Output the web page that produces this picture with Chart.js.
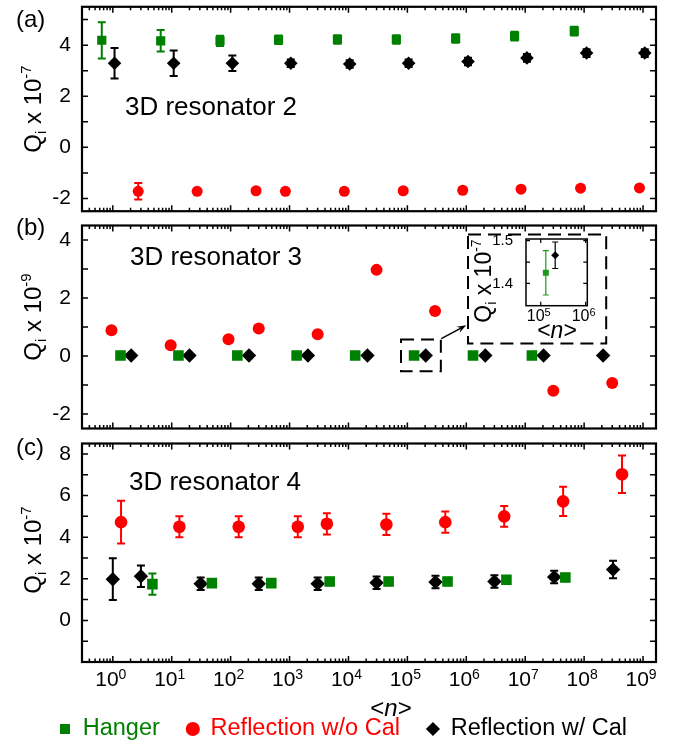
<!DOCTYPE html>
<html>
<head>
<meta charset="utf-8">
<script src="https://cdn.jsdelivr.net/npm/chart.js@4.4.0/dist/chart.umd.min.js"></script>
<style>
  body { margin: 0; background: #fff; overflow: hidden; }
  #wrap { position: relative; width: 686px; height: 748px; }
  #wrap canvas { position: absolute; }
</style>
</head>
<body>
<div id="wrap">
  <canvas id="panelA" style="left:0;top:0" width="686" height="218"></canvas>
  <canvas id="panelB" style="left:0;top:218px" width="686" height="218"></canvas>
  <canvas id="panelC" style="left:0;top:436px" width="686" height="312"></canvas>
  <canvas id="inset" style="left:470px;top:226px" width="150" height="120"></canvas>
</div>
<script>
// (a) 3D resonator 2, Qi x 10^-7
const aHangerN = [0.65, 6.5, 66, 650, 6500, 65000, 660000, 6.6e6, 6.8e7];
const aHangerQ = [4.19, 4.17, 4.17, 4.21, 4.22, 4.22, 4.26, 4.35, 4.55];
const aHangerErr = [0.71, 0.42, 0.2, 0.17, 0.17, 0.17, 0.17, 0.17, 0.17];
const aReflN = [2.7, 27, 270, 850, 8500, 85000, 870000, 8.5e6, 8.7e7, 8.7e8];
const aReflQ = [-1.72, -1.72, -1.70, -1.72, -1.72, -1.70, -1.68, -1.64, -1.60, -1.59];
const aReflErr = [0.32, 0.1, 0.1, 0.1, 0.1, 0.1, 0.1, 0.1, 0.1, 0.1];
const aCalN = [1.07, 10.8, 107, 1050, 10500, 105000, 1.07e6, 1.07e7, 1.1e8, 1.07e9];
const aCalQ = [3.29, 3.29, 3.29, 3.29, 3.26, 3.29, 3.36, 3.5, 3.69, 3.69];
const aCalErr = [0.6, 0.5, 0.3, 0.15, 0.15, 0.15, 0.15, 0.15, 0.15, 0.15];

// (b) 3D resonator 3, Qi x 10^-9
const bHangerN = [1.35, 13, 130, 1320, 13000, 130000, 1.3e6, 1.3e7];
const bHangerQ = [0.015, 0.015, 0.015, 0.015, 0.015, 0.015, 0.015, 0.015];
const bReflN = [0.95, 9.6, 92, 300, 3000, 30000, 295000, 3e7, 3e8];
const bReflQ = [0.89, 0.37, 0.58, 0.95, 0.75, 2.97, 1.55, -1.2, -0.93];
const bCalN = [2.05, 20, 205, 2050, 21000, 205000, 2.1e6, 2.05e7, 2.1e8];
const bCalQ = [0.015, 0.015, 0.015, 0.015, 0.015, 0.015, 0.015, 0.015, 0.015];

// inset of (b), Qi x 10^-7
const insetHangerN = [1.3e5];
const insetHangerQ = [1.425];
const insetHangerErr = [0.052];
const insetCalN = [2.1e5];
const insetCalQ = [1.466];
const insetCalErr = [0.031];

// (c) 3D resonator 4, Qi x 10^-7
const cHangerN = [4.7, 48, 490, 4800, 48000, 480000, 4.8e6, 4.8e7];
const cHangerQ = [1.74, 1.79, 1.79, 1.87, 1.87, 1.87, 1.95, 2.06];
const cHangerErr = [0.51, 0.18, 0.18, 0.18, 0.18, 0.18, 0.18, 0.18];
const cReflN = [1.38, 13.5, 137, 1380, 4300, 44000, 440000, 4.4e6, 4.4e7, 4.4e8];
const cReflQ = [4.72, 4.5, 4.5, 4.5, 4.64, 4.61, 4.72, 5.0, 5.72, 7.02];
const cReflErr = [1.03, 0.51, 0.51, 0.51, 0.51, 0.51, 0.51, 0.5, 0.7, 0.9];
const cCalN = [1.0, 3.0, 31, 300, 3000, 30000, 3e5, 3e6, 3.1e7, 3.1e8];
const cCalQ = [1.98, 2.12, 1.76, 1.76, 1.76, 1.81, 1.84, 1.87, 2.08, 2.44];
const cCalErr = [1.0, 0.52, 0.3, 0.3, 0.3, 0.3, 0.3, 0.3, 0.3, 0.42];

// axis ticks
const xExponents = [0, 1, 2, 3, 4, 5, 6, 7, 8, 9];
const insetExponents = [5, 6];
const abMajorTicks = [-2, 0, 2, 4];
const cMajorTicks = [0, 2, 4, 6, 8];
const insetMajorTicks = [1.4, 1.5];

// dashed zoom boxes in (b), in data units
const zoomBoxN = [7.8e4, 3.7e5], zoomBoxQ = [-0.53, 0.57];
const insetBoxN = [1.07e6, 2.37e8], insetBoxQ = [0.43, 4.19];
const arrowN = [3.76e5, 1.0e6], arrowQ = [0.6, 1.06];

const FONT = "'Liberation Sans', Arial, sans-serif";
const GREEN = '#008000', RED = '#ff0000', BLACK = '#000000';

const toPts = (xs, ys) => xs.map((v, i) => ({ x: v, y: ys[i] }));

function fontOf(p) {
  return (p.i ? 'italic ' : '') + p.s + 'px ' + FONT;
}

// draws a run of text pieces (for sub/superscripts)
function rich(ctx, parts, x, y, align) {
  let w = 0;
  parts.forEach(p => { ctx.font = fontOf(p); p.w = ctx.measureText(p.t).width; w += p.w; });
  let cx = align === 'center' ? x - w / 2 : x;
  ctx.textAlign = 'left';
  ctx.textBaseline = 'alphabetic';
  parts.forEach(p => { ctx.font = fontOf(p); ctx.fillText(p.t, cx, y + (p.dy || 0)); cx += p.w; });
}

const errorBars = {
  id: 'errorBars',
  beforeDatasetsDraw(chart) {
    const ctx = chart.ctx, y = chart.scales.y;
    chart.data.datasets.forEach((ds, i) => {
      if (!ds.errors) return;
      const meta = chart.getDatasetMeta(i);
      ctx.save();
      ctx.strokeStyle = ds.borderColor;
      ctx.lineWidth = ds.errLine || 2;
      const c = ds.cap || 4;
      ctx.beginPath();
      meta.data.forEach((pt, j) => {
        const top = y.getPixelForValue(ds.data[j].y + ds.errors[j]);
        const bot = y.getPixelForValue(ds.data[j].y - ds.errors[j]);
        ctx.moveTo(pt.x, top); ctx.lineTo(pt.x, bot);
        ctx.moveTo(pt.x - c, top); ctx.lineTo(pt.x + c, top);
        ctx.moveTo(pt.x - c, bot); ctx.lineTo(pt.x + c, bot);
      });
      ctx.stroke();
      ctx.restore();
    });
  }
};

const frameTicks = {
  id: 'frameTicks',
  afterDatasetsDraw(chart, args, o) {
    const { ctx, chartArea: a } = chart;
    const x = chart.scales.x, y = chart.scales.y;
    ctx.save();
    ctx.strokeStyle = '#000';
    ctx.lineWidth = o.tickWidth;
    ctx.beginPath();
    for (let k = -2; k <= 10; k++) {
      for (let m = 1; m <= 9; m++) {
        const v = m * Math.pow(10, k);
        if (v < x.min || v > x.max) continue;
        if (m !== 1 && !o.xMinor) continue;
        const px = x.getPixelForValue(v);
        const len = m === 1 ? o.major : o.minor;
        ctx.moveTo(px, a.bottom); ctx.lineTo(px, a.bottom - len);
        ctx.moveTo(px, a.top); ctx.lineTo(px, a.top + len);
      }
    }
    o.yTicks.forEach(v => {
      const py = y.getPixelForValue(v);
      ctx.moveTo(a.left, py); ctx.lineTo(a.left + o.major, py);
      ctx.moveTo(a.right, py); ctx.lineTo(a.right - o.major, py);
    });
    ctx.stroke();
    ctx.lineWidth = o.frameWidth;
    ctx.strokeRect(a.left, a.top, a.right - a.left, a.bottom - a.top);
    ctx.restore();
  }
};

const decor = {
  id: 'decor',
  afterDraw(chart, args, o) {
    const ctx = chart.ctx;
    const x = chart.scales.x, y = chart.scales.y;
    ctx.save();
    ctx.fillStyle = '#000';
    ctx.strokeStyle = '#000';
    if (o.letter) rich(ctx, [{ t: o.letter, s: 24 }], 16, o.letterY, 'left');
    if (o.label) rich(ctx, [{ t: o.label, s: 26 }], o.labelX, o.labelY, 'left');
    if (o.yTitle) {
      const s = o.yTitleSize, ss = Math.round(s * 0.62);
      ctx.save();
      ctx.translate(o.yTitleX, o.yTitleY);
      ctx.rotate(-Math.PI / 2);
      rich(ctx, [{ t: 'Q', s: s }, { t: 'i', s: ss, dy: s * 0.22 }, { t: ' x 10', s: s }, { t: o.yTitle, s: ss, dy: -s * 0.42 }], 0, 0, 'center');
      ctx.restore();
    }
    if (o.xLabels) {
      o.xLabels.forEach(e => {
        rich(ctx, [{ t: '10', s: o.xLabelSize }, { t: String(e), s: o.xSupSize, dy: -o.xLabelSize * 0.33 }],
          x.getPixelForValue(Math.pow(10, e)) - 2, o.xLabelY, 'center');
      });
    }
    if (o.xTitleY) {
      const s = o.xTitleSize;
      rich(ctx, [{ t: '<', s: s }, { t: 'n', s: s, i: true }, { t: '>', s: s }], o.xTitleX, o.xTitleY, 'center');
    }
    if (o.zoomBoxes) {
      ctx.lineWidth = 2;
      ctx.setLineDash([13, 7]);
      [[zoomBoxN, zoomBoxQ], [insetBoxN, insetBoxQ]].forEach(([bn, bq]) => {
        const l = x.getPixelForValue(bn[0]), r = x.getPixelForValue(bn[1]);
        const t = y.getPixelForValue(bq[1]), b = y.getPixelForValue(bq[0]);
        ctx.strokeRect(l, t, r - l, b - t);
      });
      ctx.setLineDash([]);
      const x0 = x.getPixelForValue(arrowN[0]), y0 = y.getPixelForValue(arrowQ[0]);
      const x1 = x.getPixelForValue(arrowN[1]), y1 = y.getPixelForValue(arrowQ[1]);
      const ang = Math.atan2(y1 - y0, x1 - x0);
      ctx.lineWidth = 1.5;
      ctx.beginPath(); ctx.moveTo(x0, y0); ctx.lineTo(x1 - 6 * Math.cos(ang), y1 - 6 * Math.sin(ang)); ctx.stroke();
      ctx.beginPath();
      ctx.moveTo(x1, y1);
      ctx.lineTo(x1 - 10 * Math.cos(ang - 0.35), y1 - 10 * Math.sin(ang - 0.35));
      ctx.lineTo(x1 - 6 * Math.cos(ang), y1 - 6 * Math.sin(ang));
      ctx.lineTo(x1 - 10 * Math.cos(ang + 0.35), y1 - 10 * Math.sin(ang + 0.35));
      ctx.closePath(); ctx.fill();
    }
    ctx.restore();
  }
};

function series(label, xs, ys, errs, style, color, radius) {
  return {
    label: label,
    data: toPts(xs, ys),
    errors: errs,
    pointStyle: style,
    pointRadius: radius,
    pointHoverRadius: radius,
    pointBorderWidth: 0,
    backgroundColor: color,
    borderColor: color
  };
}

function yAxis(min, max, major, width) {
  return {
    min: min, max: max,
    afterBuildTicks: s => { s.ticks = major.map(v => ({ value: v })); },
    afterFit: s => { s.width = width; s.paddingTop = 0; s.paddingBottom = 0; },
    grid: { display: false },
    border: { display: false },
    ticks: { color: '#000', font: { size: 21, family: FONT }, padding: 3 }
  };
}

const xHidden = { type: 'logarithmic', min: 0.3, max: 1.66e9, display: false };
const frameOpts = ticks => ({ major: 6, minor: 3.5, tickWidth: 1.5, frameWidth: 2.2, xMinor: true, yTicks: ticks });

new Chart(document.getElementById('panelA'), {
  type: 'scatter',
  data: {
    datasets: [
      series('Hanger', aHangerN, aHangerQ, aHangerErr, 'rect', GREEN, 6.5),
      series('Reflection w/o Cal', aReflN, aReflQ, aReflErr, 'circle', RED, 5.5),
      series('Reflection w/ Cal', aCalN, aCalQ, aCalErr, 'rectRot', BLACK, 6.8)
    ]
  },
  options: {
    responsive: false, animation: false,
    layout: { padding: { left: 0, right: 30, top: 5, bottom: 5 } },
    plugins: {
      legend: { display: false }, tooltip: { enabled: false },
      frameTicks: frameOpts([-2, -1, 0, 1, 2, 3, 4, 5]),
      decor: { letter: '(a)', letterY: 27, label: '3D resonator 2', labelX: 125, labelY: 115,
               yTitle: '-7', yTitleSize: 24, yTitleX: 41, yTitleY: 109 }
    },
    scales: { x: xHidden, y: yAxis(-2.5, 5.5, abMajorTicks, 82) }
  },
  plugins: [errorBars, frameTicks, decor]
});

new Chart(document.getElementById('panelB'), {
  type: 'scatter',
  data: {
    datasets: [
      series('Hanger', bHangerN, bHangerQ, null, 'rect', GREEN, 7.5),
      series('Reflection w/o Cal', bReflN, bReflQ, null, 'circle', RED, 6),
      series('Reflection w/ Cal', bCalN, bCalQ, null, 'rectRot', BLACK, 7.2)
    ]
  },
  options: {
    responsive: false, animation: false,
    layout: { padding: { left: 0, right: 30, top: 2, bottom: 5 } },
    plugins: {
      legend: { display: false }, tooltip: { enabled: false },
      frameTicks: frameOpts([-2, -1, 0, 1, 2, 3, 4]),
      decor: { letter: '(b)', letterY: 17, label: '3D resonator 3', labelX: 130, labelY: 47,
               yTitle: '-9', yTitleSize: 24, yTitleX: 41, yTitleY: 99, zoomBoxes: true }
    },
    scales: { x: xHidden, y: yAxis(-2.5, 4.5, abMajorTicks, 82) }
  },
  plugins: [errorBars, frameTicks, decor]
});

new Chart(document.getElementById('panelC'), {
  type: 'scatter',
  data: {
    datasets: [
      series('Hanger', cHangerN, cHangerQ, cHangerErr, 'rect', GREEN, 7.5),
      series('Reflection w/o Cal', cReflN, cReflQ, cReflErr, 'circle', RED, 6.3),
      series('Reflection w/ Cal', cCalN, cCalQ, cCalErr, 'rectRot', BLACK, 7.2)
    ]
  },
  options: {
    responsive: false, animation: false,
    layout: { padding: { left: 0, right: 0, top: 6, bottom: 0 } },
    plugins: {
      tooltip: { enabled: false },
      legend: {
        display: true, position: 'bottom', maxHeight: 57.75,
        labels: {
          usePointStyle: true, boxWidth: 12, boxHeight: 10, padding: 27,
          font: { size: 23.5, family: FONT },
          generateLabels: chart => chart.data.datasets.map((ds, i) => ({
            text: ds.label, fillStyle: ds.backgroundColor, strokeStyle: ds.borderColor,
            fontColor: ds.borderColor, lineWidth: 0, pointStyle: ds.pointStyle,
            hidden: false, datasetIndex: i
          }))
        }
      },
      frameTicks: frameOpts([-1, 0, 1, 2, 3, 4, 5, 6, 7, 8]),
      decor: { letter: '(c)', letterY: 19, label: '3D resonator 4', labelX: 129, labelY: 54,
               yTitle: '-7', yTitleSize: 24, yTitleX: 41, yTitleY: 114,
               xLabels: xExponents, xLabelSize: 21, xSupSize: 14, xLabelY: 250,
               xTitleX: 391, xTitleY: 280, xTitleSize: 24 }
    },
    scales: {
      x: { type: 'logarithmic', min: 0.3, max: 1.66e9,
           ticks: { display: false }, grid: { display: false }, border: { display: false },
           afterFit: s => { s.height = 28.25; } },
      y: yAxis(-2, 8.5, cMajorTicks, 82),
      yRight: { position: 'right', display: true, ticks: { display: false },
                grid: { display: false }, border: { display: false },
                afterFit: s => { s.width = 30; } }
    }
  },
  plugins: [errorBars, frameTicks, decor]
});

new Chart(document.getElementById('inset'), {
  type: 'scatter',
  data: {
    datasets: [
      Object.assign(series('Hanger', insetHangerN, insetHangerQ, insetHangerErr, 'rect', '#1a9a1a', 4.2), { errLine: 1.2, cap: 3 }),
      Object.assign(series('Reflection w/ Cal', insetCalN, insetCalQ, insetCalErr, 'rectRot', BLACK, 4), { errLine: 1.2, cap: 3 })
    ]
  },
  options: {
    responsive: false, animation: false,
    layout: { padding: { left: 0, right: 32.7, top: 13, bottom: 40.3 } },
    plugins: {
      legend: { display: false }, tooltip: { enabled: false },
      frameTicks: { major: 4, minor: 2, tickWidth: 1.2, frameWidth: 1.5, xMinor: false, yTicks: [1.4, 1.45, 1.5] },
      decor: { yTitle: '-7', yTitleSize: 23, yTitleX: 21, yTitleY: 55,
               xLabels: insetExponents, xLabelSize: 16, xSupSize: 11, xLabelY: 95,
               xTitleX: 87, xTitleY: 112, xTitleSize: 23 }
    },
    scales: {
      x: { type: 'logarithmic', min: Math.pow(10, 4.673), max: Math.pow(10, 6.036), display: false },
      y: {
        min: 1.348, max: 1.504,
        afterBuildTicks: s => { s.ticks = insetMajorTicks.map(v => ({ value: v })); },
        afterFit: s => { s.width = 56; s.paddingTop = 0; s.paddingBottom = 0; },
        grid: { display: false }, border: { display: false },
        ticks: { color: '#000', font: { size: 15, family: FONT }, padding: 5 }
      }
    }
  },
  plugins: [errorBars, frameTicks, decor]
});
</script>
</body>
</html>
